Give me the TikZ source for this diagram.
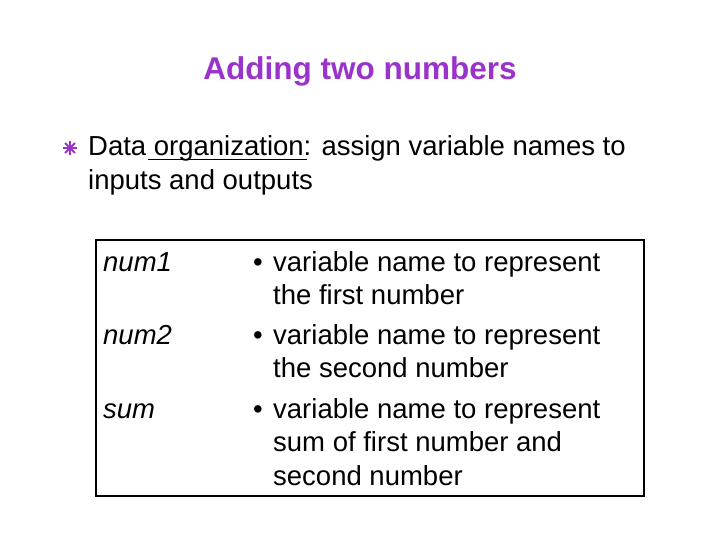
\documentclass[tikz,border=0pt]{standalone}
\usepackage{fontspec}
\setmainfont{Liberation Sans}
\definecolor{ttl}{HTML}{9933CC}
\begin{document}
\begin{tikzpicture}[x=1pt,y=-1pt,
  txt/.style={anchor=base west,inner sep=0pt,font=\fontsize{27.5}{32}\selectfont},
  var/.style={txt,font=\fontsize{27.5}{32}\selectfont\itshape}]
\useasboundingbox (0,0) rectangle (720,540);
\node[anchor=base,inner sep=0pt,font=\fontsize{31.5}{36}\selectfont\bfseries,text=ttl] (title) at (360,80) {Adding two numbers};
\node[inner sep=0pt] (ic) at (70,148) {};
\foreach \a in {0,45,90,135} \draw[ttl,line width=2pt] (ic.center) ++(\a:7) -- ++(\a+180:14);
\node[txt] (l1) at (88,156) {Data organization: assign variable names to};
\node[txt] (l2) at (88,190) {inputs and outputs};
\draw[line width=1pt] (148,160) -- (307,160);
\draw[line width=1.2pt] (96,240) rectangle (644,496);
\node[var] (v1) at (103,271) {num1};
\node[var] (v2) at (103,344) {num2};
\node[var] (v3) at (103,418) {sum};
\foreach \y in {271,344,418} \node[txt] at (253,\y) {•};
\node[txt] (d1) at (273,271) {variable name to represent};
\node[txt] (d2) at (273,304) {the first number};
\node[txt] (d3) at (273,344) {variable name to represent};
\node[txt] (d4) at (273,377) {the second number};
\node[txt] (d5) at (273,418) {variable name to represent};
\node[txt] (d6) at (273,451) {sum of first number and};
\node[txt] (d7) at (273,485) {second number};
\end{tikzpicture}
\end{document}
